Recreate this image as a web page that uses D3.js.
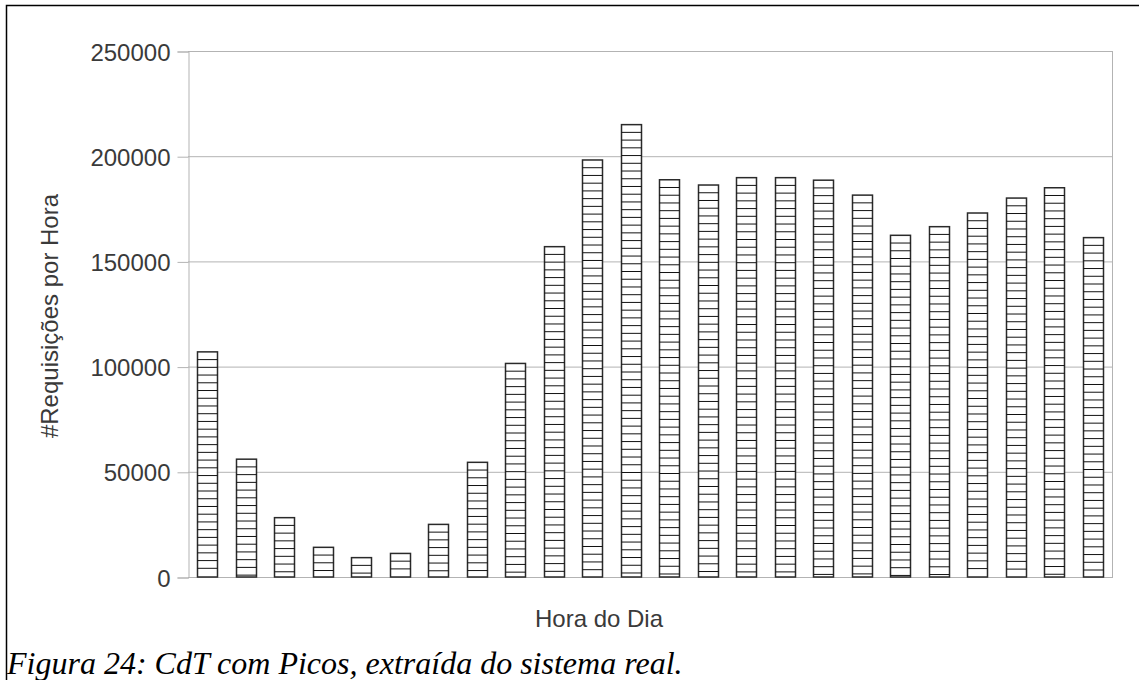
<!DOCTYPE html>
<html>
<head>
<meta charset="utf-8">
<style>
    body { margin: 0; background: #fff; }
    svg { display: block; }
    .tick text { font-family: 'Liberation Sans', Arial, sans-serif; fill: #3a3a3a; }
</style>
</head>
<body>
<svg width="1139" height="680"></svg>

<script src="https://d3js.org/d3.v7.min.js"></script>
<script>
    // hour of day (0..23) and requests per hour
    let hours = d3.range(0, 24)
    let requests = [107000, 56000, 28200, 14100, 9200, 11200, 25000, 54500, 101500, 157000, 198200, 215000,
                    188800, 186300, 189800, 189800, 188600, 181500, 162400, 166500, 173000, 180100, 185000, 161300]
    let yTicks = [0, 50000, 100000, 150000, 200000, 250000]

    let svg = d3.select("svg")

    // outer frame (runs off the right / bottom edge)
    svg.append("rect")
        .attr("x", 6.5).attr("y", 5.5)
        .attr("width", 1200).attr("height", 720)
        .style("fill", "none")
        .style("stroke", "#000")
        .style("stroke-width", 1.5)

    let plotLeft = 188, plotRight = 1112, plotTop = 51, plotBottom = 577

    let x = d3.scaleBand()
        .domain(hours)
        .range([plotLeft, plotRight])
        .paddingInner(0.48)
        .paddingOuter(0.24)

    let y = d3.scaleLinear()
        .domain([0, 250000])
        .range([plotBottom, plotTop])

    // grid lines
    svg.selectAll(".grid")
        .data(yTicks)
        .join("line")
        .attr("x1", plotLeft).attr("x2", plotRight)
        .attr("y1", d => y(d) + 0.5).attr("y2", d => y(d) + 0.5)
        .style("stroke", "#b3b3b3")
        .style("stroke-width", 1)

    // plot frame right side
    svg.append("line")
        .attr("x1", plotRight + 0.5).attr("x2", plotRight + 0.5)
        .attr("y1", plotTop).attr("y2", plotBottom + 1)
        .style("stroke", "#b3b3b3")

    // y axis
    let yAxis = svg.append("g")
        .attr("transform", "translate(" + (plotLeft + 0.5) + ",0.5)")
        .call(d3.axisLeft(y).tickValues(yTicks).tickSize(11).tickPadding(7).tickFormat(d3.format("d")))
    yAxis.select(".domain").style("stroke", "#b3b3b3")
    yAxis.selectAll(".tick line").style("stroke", "#b3b3b3")
    yAxis.selectAll(".tick text").style("font-size", "24px").attr("dy", "0.36em")

    // bars
    let step = 7.73
    let bars = svg.selectAll(".bar")
        .data(hours)
        .join("g")
        .attr("class", "bar")

    bars.append("rect")
        .attr("x", d => Math.round(x(d)) + 0.5)
        .attr("y", d => y(requests[d]))
        .attr("width", Math.round(x.bandwidth()))
        .attr("height", d => plotBottom - y(requests[d]))
        .style("fill", "#fff")
        .style("stroke", "#2a2a2a")
        .style("stroke-width", 1.5)

    // horizontal hatching, measured from the top of each bar
    bars.selectAll(".hatch")
        .data(d => d3.range(y(requests[d]) + step, plotBottom - 1, step).map(v => ({ h: d, yy: v })))
        .join("line")
        .attr("x1", d => Math.round(x(d.h)) + 0.5)
        .attr("x2", d => Math.round(x(d.h)) + 0.5 + Math.round(x.bandwidth()))
        .attr("y1", d => d.yy).attr("y2", d => d.yy)
        .style("stroke", "#111")
        .style("stroke-width", 1)

    // axis titles
    svg.append("text")
        .attr("transform", "translate(58,316) rotate(-90)")
        .attr("text-anchor", "middle")
        .style("font-family", "'Liberation Sans', Arial, sans-serif")
        .style("font-size", "24px")
        .style("fill", "#3a3a3a")
        .text("#Requisições por Hora")

    svg.append("text")
        .attr("x", 599).attr("y", 627)
        .attr("text-anchor", "middle")
        .style("font-family", "'Liberation Sans', Arial, sans-serif")
        .style("font-size", "24px")
        .style("fill", "#3a3a3a")
        .text("Hora do Dia")

    // caption
    svg.append("text")
        .attr("x", 7).attr("y", 674)
        .style("font-family", "'Liberation Serif', 'Times New Roman', serif")
        .style("font-style", "italic")
        .style("font-size", "32px")
        .style("fill", "#000")
        .text("Figura 24: CdT com Picos, extraída do sistema real.")
</script>
</body>
</html>
